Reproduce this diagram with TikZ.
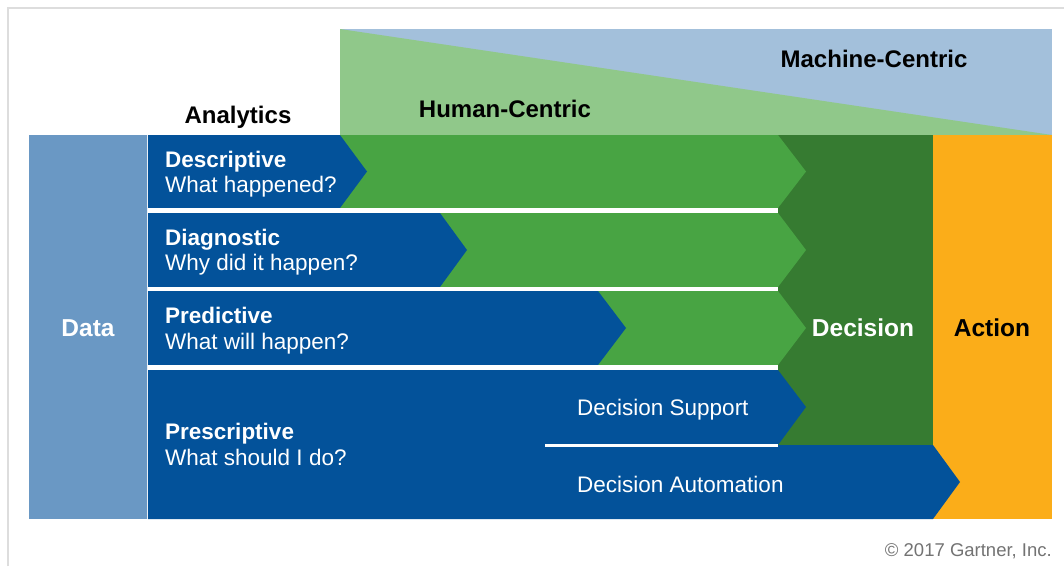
\documentclass[tikz,border=0pt]{standalone}
\usepackage{fontspec}
\setmainfont{Liberation Sans}
\definecolor{databox}{HTML}{6A98C4}
\definecolor{dblue}{HTML}{03529A}
\definecolor{mgreen}{HTML}{48A443}
\definecolor{dgreen}{HTML}{367B31}
\definecolor{orng}{HTML}{FBAD19}
\definecolor{lgreen}{HTML}{90C88A}
\definecolor{lblue}{HTML}{A3C0DB}
\definecolor{framegray}{HTML}{DDDDDD}
\tikzset{
  body/.style={text=white, font=\fontsize{22.5}{26}\selectfont, inner sep=0pt, anchor=base west},
  bodyb/.style={body, font=\fontsize{22.5}{26}\selectfont\bfseries},
  head/.style={text=black, font=\fontsize{24}{28}\selectfont\bfseries, inner sep=0pt, anchor=base},
  big/.style={font=\fontsize{24.5}{28}\selectfont\bfseries, inner sep=0pt},
  sep/.style={draw=white, line width=4.5pt}
}
\begin{document}
\begin{tikzpicture}[x=1pt,y=-1pt]
\useasboundingbox (0,0) rectangle (1064,566);
\fill[white] (0,0) rectangle (1064,566);
% frame
\draw[framegray, line width=1.5pt] (8,566) -- (8,8) -- (1064,8);
% top wedge
\fill[lblue] (340,29) rectangle (1052,135);
\fill[lgreen] (340,29) -- (1052,135) -- (340,135) -- cycle;
% data column
\fill[databox] (29,135) rectangle (147,519);
% decision and action
\fill[dgreen] (778,135) rectangle (933,445);
\fill[orng] (933,135) rectangle (1052,519);
% green arrows
\fill[mgreen] (148,135) -- (778,135) -- (806,171.5) -- (778,208) -- (148,208) -- cycle;
\fill[mgreen] (148,213) -- (778,213) -- (806,250) -- (778,287) -- (148,287) -- cycle;
\fill[mgreen] (148,291) -- (778,291) -- (806,328) -- (778,365) -- (148,365) -- cycle;
% blue arrows
\fill[dblue] (148,135) -- (340,135) -- (367,171.5) -- (340,208) -- (148,208) -- cycle;
\fill[dblue] (148,213) -- (440,213) -- (467,250) -- (440,287) -- (148,287) -- cycle;
\fill[dblue] (148,291) -- (598,291) -- (626,328) -- (598,365) -- (148,365) -- cycle;
\fill[dblue] (148,370) -- (778,370) -- (806,407) -- (778,445) -- (148,445) -- cycle;
\fill[dblue] (148,445) -- (933,445) -- (960,482) -- (933,519) -- (148,519) -- cycle;
% white separators
\draw[sep] (148,210.5) -- (778,210.5);
\draw[sep] (148,289) -- (778,289);
\draw[sep] (148,367.5) -- (778,367.5);
\draw[white, line width=3pt] (545,445) -- (778,445);
\draw[white!85!databox, line width=1pt] (147.5,135) -- (147.5,519);
% texts
\node[head] (analytics) at (238,123) {Analytics};
\node[head] (human) at (505,117) {Human-Centric};
\node[head] (machine) at (874,67) {Machine-Centric};
\node[big, text=white] (data) at (88,328) {Data};
\node[big, text=white] (decision) at (863,328) {Decision};
\node[big, text=black] (action) at (992,328) {Action};
\node[bodyb] (desc) at (165,167) {Descriptive};
\node[body] (descq) at (165,192) {What happened?};
\node[bodyb] (diag) at (165,245) {Diagnostic};
\node[body] (diagq) at (165,270) {Why did it happen?};
\node[bodyb] (pred) at (165,323) {Predictive};
\node[body] (predq) at (165,349) {What will happen?};
\node[bodyb] (presc) at (165,439) {Prescriptive};
\node[body] (prescq) at (165,465) {What should I do?};
\node[body] (support) at (577,415) {Decision Support};
\node[body] (auto) at (577,492) {Decision Automation};
\node[inner sep=0pt, anchor=base east, text=black!55, font=\fontsize{18.5}{22}\selectfont] (copy) at (1052,556) {\textcopyright{} 2017 Gartner, Inc.};
\end{tikzpicture}
\end{document}
